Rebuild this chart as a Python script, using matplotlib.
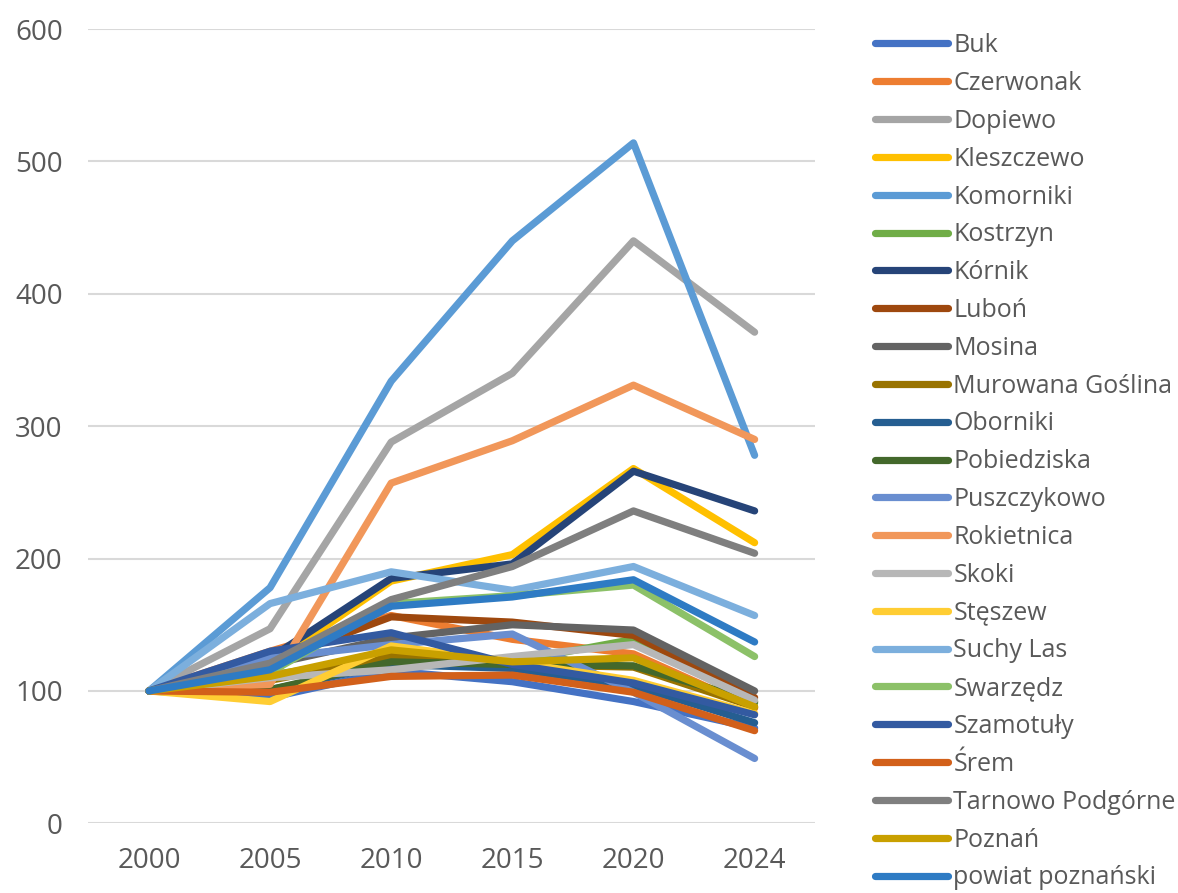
import matplotlib.pyplot as plt

# dane: indeks 2000 = 100
lata = ['2000', '2005', '2010', '2015', '2020', '2024']

gminy = ['Buk', 'Czerwonak', 'Dopiewo', 'Kleszczewo', 'Komorniki', 'Kostrzyn',
         'Kórnik', 'Luboń', 'Mosina', 'Murowana Goślina', 'Oborniki',
         'Pobiedziska', 'Puszczykowo', 'Rokietnica', 'Skoki', 'Stęszew',
         'Suchy Las', 'Swarzędz', 'Szamotuły', 'Śrem', 'Tarnowo Podgórne',
         'Poznań', 'powiat poznański']

buk = [100, 95, 115, 107, 92, 72]
czerwonak = [100, 130, 157, 139, 128, 87]
dopiewo = [100, 147, 288, 340, 440, 371]
kleszczewo = [100, 120, 183, 203, 268, 212]
komorniki = [100, 178, 334, 440, 514, 278]
kostrzyn = [100, 112, 126, 122, 139, 91]
kornik = [100, 125, 185, 196, 266, 236]
lubon = [100, 122, 156, 152, 142, 95]
mosina = [100, 120, 140, 150, 146, 100]
murowana = [100, 108, 126, 120, 118, 88]
oborniki = [100, 101, 120, 117, 104, 76]
pobiedziska = [100, 101, 122, 120, 119, 92]
puszczykowo = [100, 125, 135, 143, 99, 49]
rokietnica = [100, 105, 257, 289, 331, 290]
skoki = [100, 110, 116, 126, 135, 93]
steszew = [100, 92, 134, 122, 108, 83]
suchy_las = [100, 166, 190, 176, 194, 157]
swarzedz = [100, 114, 166, 172, 180, 126]
szamotuly = [100, 130, 144, 120, 106, 82]
srem = [100, 99, 111, 112, 99, 70]
tarnowo = [100, 121, 169, 194, 236, 204]
poznan = [100, 111, 131, 122, 125, 88]
powiat = [100, 116, 164, 171, 184, 137]

serie = [buk, czerwonak, dopiewo, kleszczewo, komorniki, kostrzyn, kornik,
         lubon, mosina, murowana, oborniki, pobiedziska, puszczykowo,
         rokietnica, skoki, steszew, suchy_las, swarzedz, szamotuly, srem,
         tarnowo, poznan, powiat]

kolory = ['#4472C4', '#ED7D31', '#A5A5A5', '#FFC000', '#5B9BD5', '#70AD47',
          '#264478', '#9E480E', '#636363', '#997300', '#255E91', '#43682B',
          '#698ED0', '#F1975A', '#B7B7B7', '#FFCD33', '#7CAFDD', '#8CC168',
          '#335AA1', '#D2601A', '#7F7F7F', '#C9A000', '#2E7BC4']

plt.rcParams['font.family'] = ['Open Sans', 'DejaVu Sans']

fig = plt.figure(figsize=(11.78, 8.93), dpi=100)
ax = fig.add_axes([0.075, 0.078, 0.617, 0.8895])

x = list(range(len(lata)))
for nazwa, y, k in zip(gminy, serie, kolory):
    ax.plot(x, y, color=k, lw=5.2, label=nazwa, solid_capstyle='round',
            solid_joinstyle='round')

ax.set_xlim(-0.5, 5.5)
ax.set_ylim(0, 600)
ax.set_yticks(range(0, 601, 100))
ax.set_xticks(x)
ax.set_xticklabels(lata)
ax.grid(axis='y', color='#D9D9D9', lw=1.5)
ax.set_axisbelow(True)
for s in ax.spines.values():
    s.set_visible(False)
ax.tick_params(length=0, labelsize=20, colors='#595959')
ax.tick_params(axis='x', pad=17)
ax.tick_params(axis='y', pad=18.5)

leg = fig.legend(loc='upper left', bbox_to_anchor=(0.724, 0.988), frameon=False,
                 fontsize=18, handlelength=2.92, handletextpad=0.2,
                 labelspacing=0.513)
for t in leg.get_texts():
    t.set_color('#595959')

fig.savefig('out.png', dpi=100)
